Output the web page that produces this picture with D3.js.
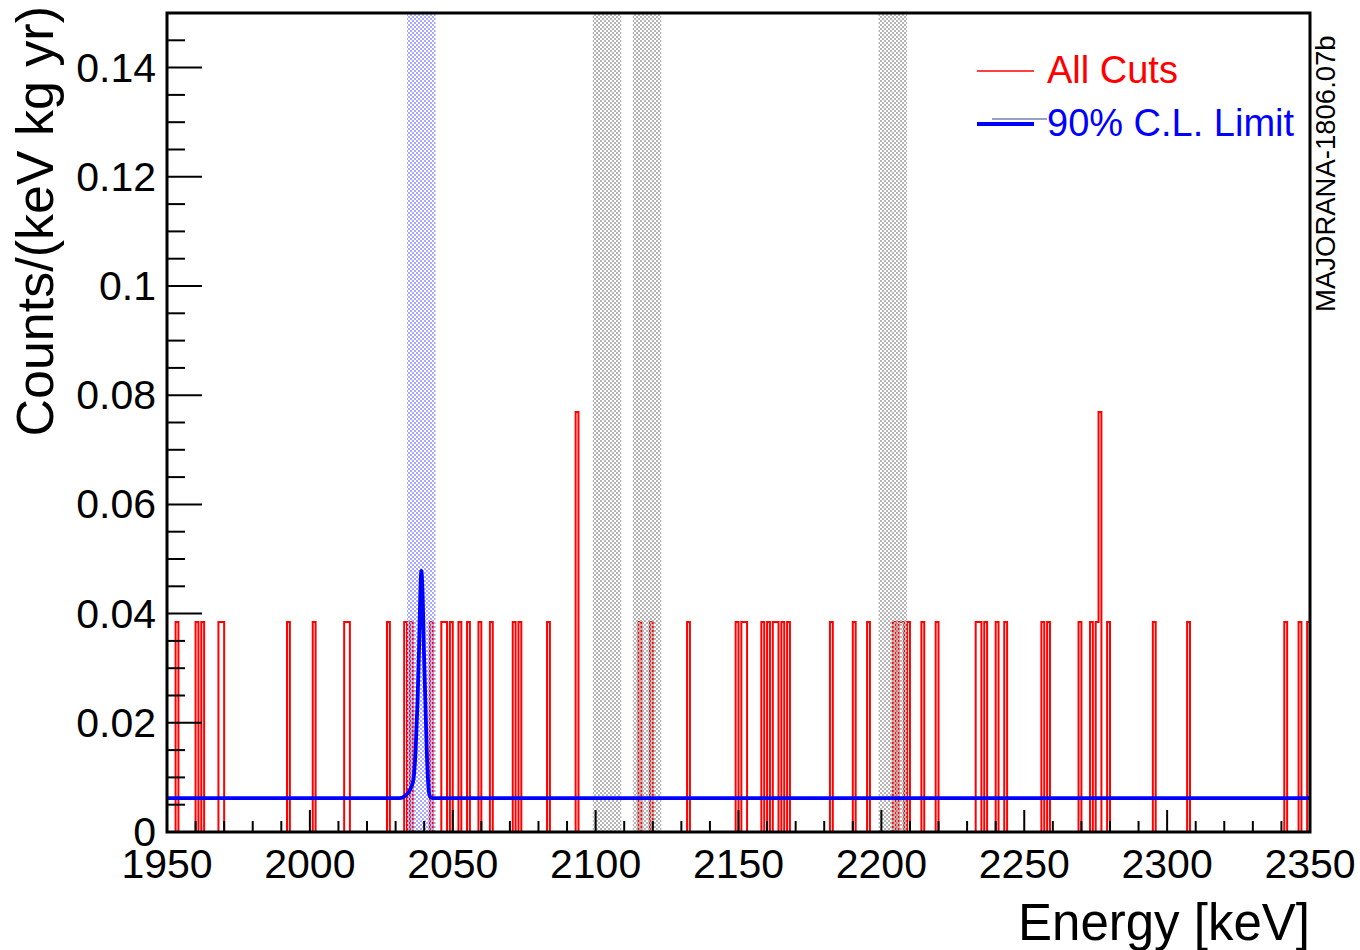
<!DOCTYPE html>
<html><head><meta charset="utf-8">
<script src="https://cdn.jsdelivr.net/npm/d3@7"></script>
<style>
body{margin:0;background:#fff}
text{font-family:"Liberation Sans",Arial,Helvetica,sans-serif}
</style>
</head><body>
<svg id="c" width="1360" height="950"></svg>
<script>
// ---- data ----
// energies (lower edge of 1-keV bin) of each event passing all cuts
const eventEnergies = [1953, 1960, 1962, 1968, 1969, 1992, 2001, 2012, 2013, 2027,
  2033, 2035, 2042, 2046, 2047, 2049, 2052, 2055, 2059, 2063, 2071, 2073, 2083,
  2093, 2093, 2115, 2119, 2132, 2149, 2151, 2152, 2158, 2160, 2162, 2163, 2165, 2167,
  2182, 2190, 2195, 2204, 2206, 2207, 2209, 2214, 2219, 2233, 2234, 2236, 2240, 2243,
  2256, 2258, 2269, 2273, 2275, 2276, 2276, 2279, 2295, 2307, 2341, 2346, 2349];
const countWeight = 1 / 26;          // counts/(keV kg yr) per event
// 90% C.L. limit curve
const limitEnergy = [1950, 2031.5, 2033.3, 2035.0, 2036.2, 2037.0, 2037.7, 2038.2, 2038.6, 2039.0,
  2039.5, 2039.9, 2040.4, 2040.9, 2041.4, 2042.0, 2043.0, 2350];
const limitValue = [0.0062, 0.0062, 0.0066, 0.0077, 0.0095, 0.015, 0.0242, 0.0334, 0.0426, 0.0478,
  0.0426, 0.0334, 0.0242, 0.015, 0.009, 0.0065, 0.0062, 0.0062];
const excludedBands = [[2099, 2109], [2113, 2123], [2199, 2209]];
const roiBand = [2034, 2044];
const xTickValues = [1950, 2000, 2050, 2100, 2150, 2200, 2250, 2300, 2350];
const xTickLabels = ["1950", "2000", "2050", "2100", "2150", "2200", "2250", "2300", "2350"];
const yTickValues = [0, 0.02, 0.04, 0.06, 0.08, 0.1, 0.12, 0.14];
const yTickLabels = ["0", "0.02", "0.04", "0.06", "0.08", "0.1", "0.12", "0.14"];
const legendLabels = ["All Cuts", "90% C.L. Limit"];

// ---- layout ----
const L = 167, R = 1310, T = 13, B = 832;
const svg = d3.select("#c");
const x = d3.scaleLinear().domain([1950, 2350]).range([L, R]);
const y = d3.scaleLinear().domain([0, 0.15]).range([B, T]);

const defs = svg.append("defs");
function checker(id, color) {
  const p = defs.append("pattern").attr("id", id).attr("patternUnits", "userSpaceOnUse")
    .attr("width", 4).attr("height", 4);
  p.append("rect").attr("x", 0).attr("y", 0).attr("width", 2).attr("height", 2).attr("fill", color);
  p.append("rect").attr("x", 2).attr("y", 2).attr("width", 2).attr("height", 2).attr("fill", color);
}
checker("hGray", "#b4b4b4");
checker("hBlue", "#a8a8ff");

// ---- histogram ----
const bins = d3.range(1950, 2350).map(lo => ({lo, hi: lo + 1, c: 0}));
eventEnergies.forEach(e => { const b = bins[e - 1950]; if (b) b.c += countWeight; });
let d = `M${x(1950)},${y(0)}`;
bins.forEach(b => { d += `L${x(b.lo)},${y(b.c)}L${x(b.hi)},${y(b.c)}`; });
d += `L${x(2350)},${y(0)}`;
svg.append("path").attr("d", d).attr("fill", "none").attr("stroke", "#ff0000")
  .attr("stroke-width", 2);

// ---- bands ----
svg.append("g").selectAll("rect").data(excludedBands).join("rect")
  .attr("x", b => x(b[0])).attr("width", b => x(b[1]) - x(b[0]))
  .attr("y", T).attr("height", B - T).attr("fill", "url(#hGray)");
svg.append("rect").attr("x", x(roiBand[0])).attr("width", x(roiBand[1]) - x(roiBand[0]))
  .attr("y", T).attr("height", B - T).attr("fill", "url(#hBlue)");

// ---- limit curve ----
const line = d3.line().x((e, i) => x(e)).y((e, i) => y(limitValue[i])).curve(d3.curveMonotoneX);
svg.append("path").attr("d", line(limitEnergy)).attr("fill", "none")
  .attr("stroke", "#0000ff").attr("stroke-width", 3.8);

// ---- axes ----
const ax = svg.append("g").attr("stroke", "#000").attr("stroke-width", 2);
d3.range(1950, 2351, 10).forEach(v => {
  const major = v % 50 === 0;
  ax.append("line").attr("x1", x(v)).attr("x2", x(v)).attr("y1", B).attr("y2", B - (major ? 22 : 11));
});
d3.range(0, 0.1501, 0.005).forEach(v => {
  const major = Math.abs(v / 0.02 - Math.round(v / 0.02)) < 1e-6;
  ax.append("line").attr("x1", L).attr("x2", L + (major ? 35 : 18)).attr("y1", y(v)).attr("y2", y(v));
});
svg.append("g").selectAll("text").data(xTickValues).join("text")
  .attr("x", v => x(v)).attr("y", B + 46).attr("text-anchor", "middle")
  .attr("font-size", 41).text((v, i) => xTickLabels[i]);
svg.append("g").selectAll("text").data(yTickValues).join("text")
  .attr("x", 156).attr("y", v => y(v)).attr("dy", "0.34em").attr("text-anchor", "end")
  .attr("font-size", 41).text((v, i) => yTickLabels[i]);

svg.append("rect").attr("x", L).attr("y", T).attr("width", R - L).attr("height", B - T)
  .attr("fill", "none").attr("stroke", "#000").attr("stroke-width", 3);

// titles
svg.append("text").attr("x", R).attr("y", 940).attr("text-anchor", "end")
  .attr("font-size", 51).text("Energy [keV]");
svg.append("text").attr("transform", "translate(53,6) rotate(-90)").attr("text-anchor", "end")
  .attr("font-size", 52).text("Counts/(keV kg yr)");
svg.append("text").attr("transform", "translate(1335,312) rotate(-90)").attr("text-anchor", "start")
  .attr("font-size", 27.5).text("MAJORANA-1806.07b");

// legend
svg.append("line").attr("x1", 977).attr("x2", 1034).attr("y1", 71).attr("y2", 71)
  .attr("stroke", "#ff0000").attr("stroke-width", 1.5);
svg.append("text").attr("x", 1047).attr("y", 83).attr("font-size", 38).attr("fill", "#ff0000")
  .text(legendLabels[0]);
svg.append("line").attr("x1", 977).attr("x2", 1034).attr("y1", 124).attr("y2", 124)
  .attr("stroke", "#0000ff").attr("stroke-width", 3.8);
svg.append("line").attr("x1", 992).attr("x2", 1047).attr("y1", 119).attr("y2", 119)
  .attr("stroke", "#334488").attr("stroke-width", 1);
svg.append("text").attr("x", 1047).attr("y", 136).attr("font-size", 38).attr("fill", "#0000ff")
  .text(legendLabels[1]);
</script>
</body></html>
